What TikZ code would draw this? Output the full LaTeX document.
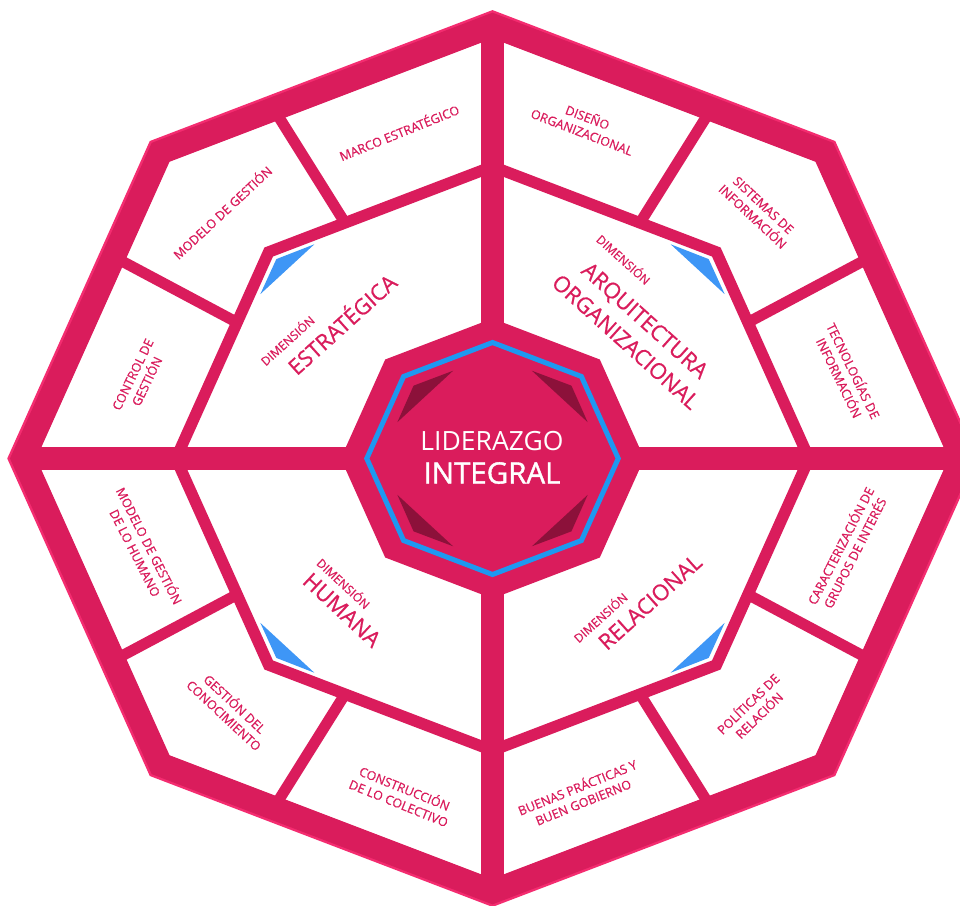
\documentclass[tikz,border=0pt]{standalone}
\usepackage{fontspec}
\setmainfont{Open Sans}
\newfontfamily\semib{Open Sans}[FakeBold=1.3]
\newfontfamily\medf{Open Sans}[FakeBold=0.6]
\definecolor{pk}{RGB}{218,28,92}
\definecolor{rim}{RGB}{244,44,112}
\definecolor{darkpk}{RGB}{140,17,58}
\definecolor{blueline}{RGB}{30,152,240}
\definecolor{bluetri}{RGB}{62,150,246}
\tikzset{
  lab/.style={text=pk, font=\medf\fontsize{12.6}{15.8}\selectfont, align=center, inner sep=0pt},
  dimw/.style={text=pk, font=\medf\fontsize{12}{14}\selectfont, inner sep=0pt},
  bigw/.style={text=pk, font=\medf\fontsize{22}{29}\selectfont, align=center, inner sep=0pt},
  band/.style={draw=pk, line join=miter},
}
\begin{document}
\begin{tikzpicture}[x=1pt,y=-1pt]
\useasboundingbox (0,0) rectangle (960,905);
\fill[white] (0,0) rectangle (960,905);
\clip (0,0) rectangle (960,905);
\begin{scope}[shift={(492.5,458.5)}, x={(1.084pt,0pt)}, y={(0pt,1pt)}]
  \coordinate (c) at (0,0);
  % outer rim and outer band
  \draw[rim, line width=26pt, line join=miter] (0:434.5) \foreach \a in {45,90,...,315} { -- (\a:434.5) } -- cycle;
  \draw[band, line width=24pt] (0:433) \foreach \a in {45,90,...,315} { -- (\a:433) } -- cycle;
  % middle band
  \draw[band, line width=11.5pt] (0:292) \foreach \a in {45,90,...,315} { -- (\a:292) } -- cycle;
  % separators in outer ring
  \foreach \a in {30,60,120,150,210,240,300,330}
    \draw[pk, line width=11pt] (\a:272.1) -- (\a:403.5);
  % cross
  \draw[pk, line width=23pt] (90:433) -- (270:433);
  \draw[pk, line width=23pt] (180:433) -- (0:433);
  % central octagon
  \fill[pk] (0:140) \foreach \a in {45,90,...,315} { -- (\a:140) } -- cycle;
  \draw[blueline, line width=5pt, line join=miter] (0:116) \foreach \a in {45,90,...,315} { -- (\a:116) } -- cycle;
  % dark bevel triangles
  \foreach \a in {45,135,225,315}
    \fill[darkpk] (\a-22.5:95) -- (\a:103) -- (\a+22.5:95) -- cycle;
  % blue triangles
  \foreach \a in {45,135,225,315}
    \fill[bluetri] (\a-7.5:270) -- (\a:282) -- (\a+7.5:270) -- cycle;
\end{scope}
% centre text
\node[text=white, font=\fontsize{26.5}{30}\selectfont, inner sep=0pt] (lid) at (492,441) {LIDERAZGO};
\node[text=white, font=\semib\fontsize{29.5}{32}\selectfont, inner sep=0pt] (integ) at (492,473) {INTEGRAL};
% upper-left
\node[lab, rotate=22] (marco) at (399,132) {MARCO ESTRATÉGICO};
\node[lab, rotate=43] (modelo) at (222,212) {MODELO DE GESTIÓN};
\node[lab, rotate=64] (control) at (140,378) {CONTROL DE\\GESTIÓN};
\node[dimw, rotate=42] (dimE) at (287,340) {DIMENSIÓN};
\node[bigw, rotate=42] (estr) at (341,323) {ESTRATÉGICA};
% upper-right
\node[lab, rotate=-21] (diseno) at (585,124) {DISEÑO\\ORGANIZACIONAL};
\node[lab, rotate=-43] (sist) at (758,211) {SISTEMAS DE\\INFORMACIÓN};
\node[lab, rotate=-64] (tecno) at (847,374) {TECNOLOGÍAS DE\\INFORMACIÓN};
\node[dimw, rotate=-42] (dimA) at (624,259) {DIMENSIÓN};
\node[bigw, rotate=-42] (arq) at (635.5,331) {ARQUITECTURA\\ORGANIZACIONAL};
% lower-left
\node[lab, rotate=-63] (modhum) at (143,549) {MODELO DE GESTIÓN\\DE LO HUMANO};
\node[lab, rotate=-43] (gescon) at (230,709) {GESTIÓN DEL\\CONOCIMIENTO};
\node[lab, rotate=-22] (constr) at (402,795) {CONSTRUCCIÓN\\DE LO COLECTIVO};
\node[dimw, rotate=-43] (dimH) at (344,583) {DIMENSIÓN};
\node[bigw, rotate=-43] (hum) at (342,610) {HUMANA};
% lower-right
\node[lab, rotate=63] (carac) at (847,549) {CARACTERIZACIÓN DE\\GRUPOS DE INTERÉS};
\node[lab, rotate=44] (polit) at (753,709) {POLÍTICAS DE\\RELACIÓN};
\node[lab, rotate=22] (buenas) at (580,794) {BUENAS PRÁCTICAS Y\\BUEN GOBIERNO};
\node[dimw, rotate=42] (dimR) at (600,617) {DIMENSIÓN};
\node[bigw, rotate=42] (rel) at (650,602) {RELACIONAL};
\end{tikzpicture}
\end{document}
